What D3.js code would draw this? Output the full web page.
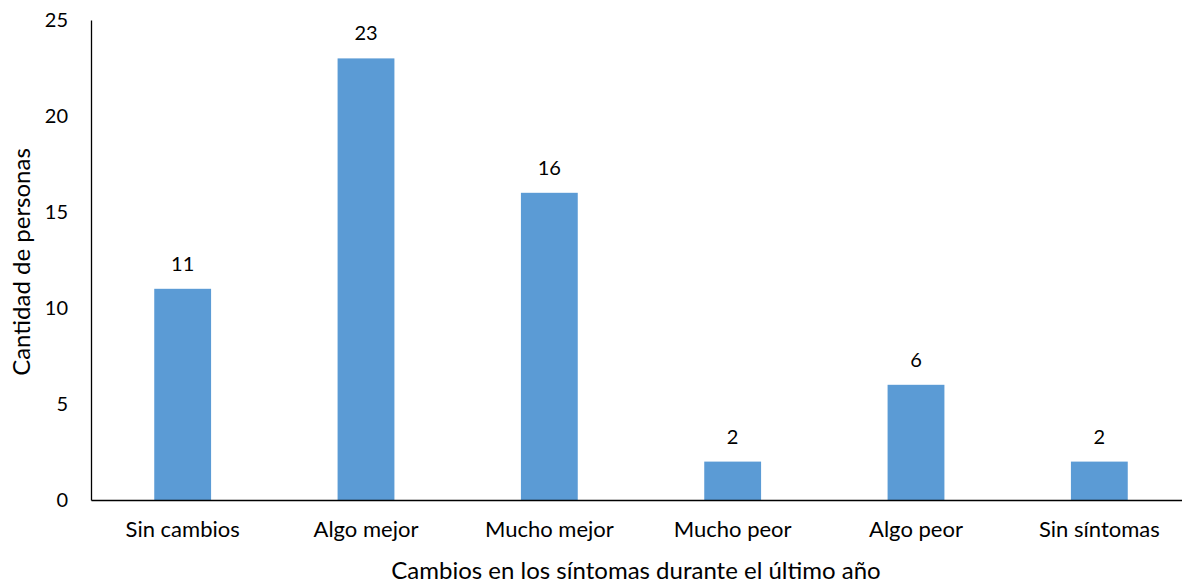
<!DOCTYPE html>
<html><head><meta charset="utf-8">
<script src="https://cdn.jsdelivr.net/npm/d3@7"></script>
<style>body{margin:0;background:#fff}svg{display:block}text{font-family:Lato,"Open Sans",sans-serif;fill:#000}</style>
</head><body>
<svg id="c" width="1182" height="584"></svg>
<script>
const categories = ["Sin cambios","Algo mejor","Mucho mejor","Mucho peor","Algo peor","Sin síntomas"];
const values = [11,23,16,2,6,2];
const yTicks = [0,5,10,15,20,25];
const xTitle = "Cambios en los síntomas durante el último año";
const yTitle = "Cantidad de personas";

(function(){
const svg = d3.select("#c");
const mLeft = 91, mRight = 1191, mTop = 20, mBottom = 500;
const x = d3.scaleBand().domain(categories).range([mLeft, mRight]).paddingInner(0.69).paddingOuter(0.345);
const y = d3.scaleLinear().domain([0,25]).range([mBottom, mTop]);

svg.selectAll("rect.bar").data(values).join("rect").attr("class","bar")
  .attr("x",(d,i)=>x(categories[i])).attr("width",x.bandwidth())
  .attr("y",d=>y(d)).attr("height",d=>mBottom-y(d)).attr("fill","#5B9BD5");

svg.selectAll("text.val").data(values).join("text").attr("class","val")
  .attr("x",(d,i)=>x(categories[i])+x.bandwidth()/2).attr("y",d=>y(d)-18)
  .attr("text-anchor","middle").attr("font-size",20).text(d=>d);

const yAxis = d3.axisLeft(y).tickValues(yTicks).tickSize(0).tickPadding(23);
const gy = svg.append("g").attr("transform",`translate(${mLeft},0)`).call(yAxis);
gy.select(".domain").attr("stroke","#000").attr("stroke-width",1.3);
gy.selectAll("text").attr("font-size",20).attr("fill","#000").attr("font-family","Lato");

const xAxis = d3.axisBottom(x).tickSize(0).tickPadding(21);
const gx = svg.append("g").attr("transform",`translate(0,${mBottom})`).call(xAxis);
gx.select(".domain").attr("stroke","#000").attr("stroke-width",1.3);
gx.selectAll("text").attr("font-size",22).attr("fill","#000").attr("font-family","Lato");

svg.append("text").attr("x",636).attr("y",579).attr("text-anchor","middle").attr("font-size",24).text(xTitle);
svg.append("text").attr("transform","translate(30,262) rotate(-90)").attr("text-anchor","middle").attr("font-size",24).text(yTitle);
})();
</script>
</body></html>
